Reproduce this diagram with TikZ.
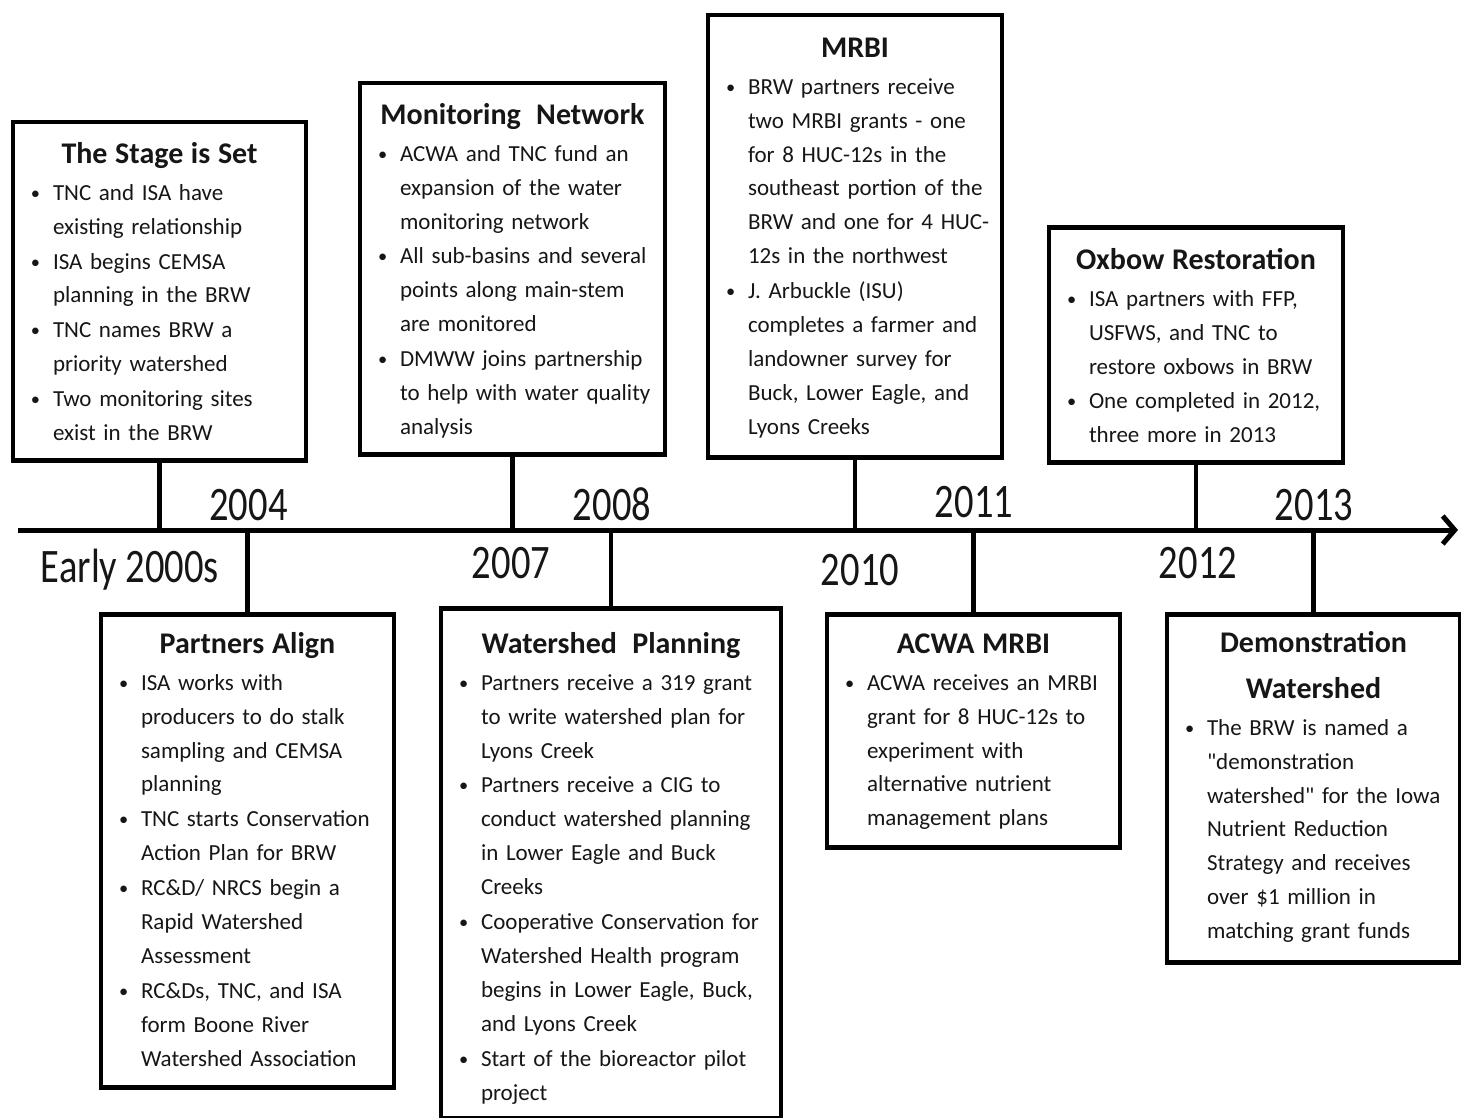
\documentclass[tikz,border=0pt]{standalone}
\usepackage{fontspec}
\setmainfont{Carlito}
\usetikzlibrary{arrows.meta}

% Title line and bullet item of an event box
\newcommand{\eventTitle}[1]{\centerline{\fontsize{30}{34}\selectfont\bfseries #1}}
\newcommand{\eventItem}[1]{\par\lineskiplimit=-20pt\noindent\hbox to 23pt{\hskip1pt\raisebox{1pt}{\scalebox{0.8}{\textbullet}}\hfil}%
  \begin{tabular}[t]{@{}l@{}}#1\end{tabular}\par}

\begin{document}
\begin{tikzpicture}[x=1pt, y=-1pt,
    eventBox/.style={draw=borderColour, line width=4.5pt, anchor=north, inner xsep=17pt, inner ysep=0pt,
        align=left, text=textColour, font=\fontsize{23}{33.9}\selectfont},
    yearLabel/.style={anchor=base, text=textColour, font=\fontsize{38.5}{40}\selectfont},
    stem/.style={draw=borderColour, line width=4.5pt}]
    % Define colours
    \definecolor{borderColour}{HTML}{000000}
    \definecolor{textColour}{HTML}{161616}

    % Macros for the time line
    \def\axisY{530} % height of the time line
    \def\axisStart{18} % left end of the time line
    \def\axisEnd{1458} % right end of the time line

  % Fix the size of the picture
  \useasboundingbox (0,0) rectangle (1461,1118);

  % Draw the time line
  \coordinate (axisL) at (\axisStart,\axisY);
  \coordinate (axisR) at (\axisEnd,\axisY);
  \draw[line width=5pt, -{Straight Barb[length=12pt, width=28pt]}] (axisL) -- (axisR);

  % Events above the time line
  \node[eventBox, text width=259pt, text height=41pt, text depth=297pt] (stage) at (159.5,120) {%
    \eventTitle{The Stage is Set}\vskip3.1pt
    \eventItem{TNC and ISA have\\ existing relationship}
    \eventItem{ISA begins CEMSA\\ planning in the BRW}
    \eventItem{TNC names BRW a\\ priority watershed}
    \eventItem{Two monitoring sites\\ exist in the BRW}};
  \node[eventBox, text width=271pt, text height=41pt, text depth=330pt] (monitor) at (512.5,81) {%
    \eventTitle{Monitoring~ Network}\vskip3.1pt
    \eventItem{ACWA and TNC fund an\\ expansion of the water\\ monitoring network}
    \eventItem{All sub-basins and several\\ points along main-stem\\ are monitored}
    \eventItem{DMWW joins partnership\\ to help with water quality\\ analysis}};
  \node[eventBox, text width=260pt, text height=42pt, text depth=400pt] (mrbi) at (855,13) {%
    \eventTitle{MRBI}\vskip3.1pt
    \eventItem{BRW partners receive\\ two MRBI grants - one\\ for 8 HUC-12s in the\\ southeast portion of the\\ BRW and one for 4 HUC-\\ 12s in the northwest}
    \eventItem{J. Arbuckle (ISU)\\ completes a farmer and\\ landowner survey for\\ Buck, Lower Eagle, and\\ Lyons Creeks}};
  \node[eventBox, text width=260pt, text height=42pt, text depth=193pt] (oxbow) at (1196,225) {%
    \eventTitle{Oxbow Restoration}\vskip3.1pt
    \eventItem{ISA partners with FFP,\\ USFWS, and TNC to\\ restore oxbows in BRW}
    \eventItem{One completed in 2012,\\ three more in 2013}};

  % Events below the time line
  \node[eventBox, text width=259pt, text height=39pt, text depth=434pt] (partners) at (247.5,612) {%
    \eventTitle{Partners Align}\vskip3.1pt
    \eventItem{ISA works with\\ producers to do stalk\\ sampling and CEMSA\\ planning}
    \eventItem{TNC starts Conservation\\ Action Plan for BRW}
    \eventItem{RC\&D/ NRCS begin a\\ Rapid Watershed\\ Assessment}
    \eventItem{RC\&Ds, TNC, and ISA\\ form Boone River\\ Watershed Association}};
  \node[eventBox, text width=306pt, text height=45pt, text depth=465pt] (planning) at (611,606) {%
    \eventTitle{Watershed~ Planning}\vskip3.1pt
    \eventItem{Partners receive a 319 grant\\ to write watershed plan for\\ Lyons Creek}
    \eventItem{Partners receive a CIG to\\ conduct watershed planning\\ in Lower Eagle and Buck\\ Creeks}
    \eventItem{Cooperative Conservation for\\ Watershed Health program\\ begins in Lower Eagle, Buck,\\ and Lyons Creek}
    \eventItem{Start of the bioreactor pilot\\ project}};
  \node[eventBox, text width=259pt, text height=39pt, text depth=194pt] (acwa) at (973.5,612) {%
    \eventTitle{ACWA MRBI}\vskip3.1pt
    \eventItem{ACWA receives an MRBI\\ grant for 8 HUC-12s to\\ experiment with\\ alternative nutrient\\ management plans}};
  \node[eventBox, text width=259pt, text height=38pt, text depth=310pt] (demo) at (1313.5,612) {%
    \eventTitle{Demonstration}\vskip12.1pt
    \eventTitle{Watershed}\vskip3.1pt
    \eventItem{The BRW is named a\\ \textquotedbl demonstration\\ watershed\textquotedbl{} for the Iowa\\ Nutrient Reduction\\ Strategy and receives\\ over \$1 million in\\ matching grant funds}};

  % Stems from the boxes to the time line
  \foreach \ev in {stage, monitor, mrbi, oxbow}
    \draw[stem] (\ev.south) -- (\ev.south |- axisL);
  \foreach \ev in {partners, planning, acwa, demo}
    \draw[stem] (\ev.north) -- (\ev.north |- axisL);

  % Label the years
  \node[yearLabel] (early) at (130,582) {\scalebox{1}[1.25]{Early 2000s}};
  \node[yearLabel] (y2004) at (248.5,520) {\scalebox{1}[1.25]{2004}};
  \node[yearLabel] (y2007) at (511,578) {\scalebox{1}[1.25]{2007}};
  \node[yearLabel] (y2008) at (612,520) {\scalebox{1}[1.25]{2008}};
  \node[yearLabel] (y2010) at (860,585) {\scalebox{1}[1.25]{2010}};
  \node[yearLabel] (y2011) at (974,517) {\scalebox{1}[1.25]{2011}};
  \node[yearLabel] (y2012) at (1198,578) {\scalebox{1}[1.25]{2012}};
  \node[yearLabel] (y2013) at (1314,520) {\scalebox{1}[1.25]{2013}};

\end{tikzpicture}
\end{document}
